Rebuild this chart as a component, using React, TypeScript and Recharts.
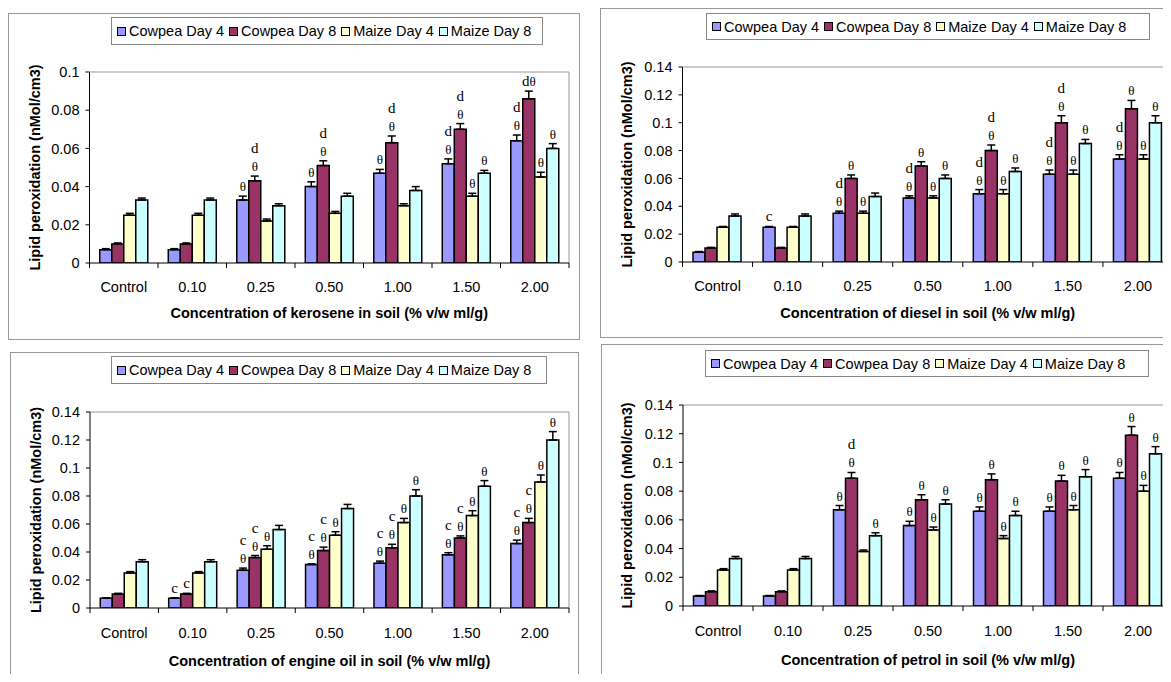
import React from 'react';
import { BarChart, Bar, XAxis, YAxis, CartesianGrid, ErrorBar, LabelList } from 'recharts';

const categories = ['Control', '0.10', '0.25', '0.50', '1.00', '1.50', '2.00'];
const seriesNames = ['Cowpea Day 4', 'Cowpea Day 8', 'Maize Day 4', 'Maize Day 8'];
const seriesColors = ['#9999FF', '#993366', '#FFFFCC', '#CCFFFF'];

// kerosene
const keroseneCowpea4 = [0.007, 0.007, 0.033, 0.040, 0.047, 0.052, 0.064];
const keroseneCowpea8 = [0.010, 0.010, 0.043, 0.051, 0.063, 0.070, 0.086];
const keroseneMaize4 = [0.025, 0.025, 0.022, 0.026, 0.030, 0.035, 0.045];
const keroseneMaize8 = [0.033, 0.033, 0.030, 0.035, 0.038, 0.047, 0.060];
const keroseneErrors = [
  [0.0005, 0.0005, 0.002, 0.0025, 0.002, 0.0025, 0.003],
  [0.0005, 0.0005, 0.0025, 0.0025, 0.0035, 0.003, 0.004],
  [0.001, 0.001, 0.001, 0.001, 0.001, 0.0015, 0.0025],
  [0.001, 0.001, 0.001, 0.0015, 0.002, 0.0015, 0.0025],
];
const keroseneNotes = [
  ['', '', 'θ', 'θ', 'θ', 'θ|d', 'θ|d'],
  ['', '', 'θ|d', 'θ|d', 'θ|d', 'θ|d', 'dθ'],
  ['', '', '', '', '', 'θ', 'θ'],
  ['', '', '', '', '', 'θ', 'θ'],
];

// diesel
const dieselCowpea4 = [0.007, 0.025, 0.035, 0.046, 0.049, 0.063, 0.074];
const dieselCowpea8 = [0.010, 0.010, 0.060, 0.069, 0.080, 0.100, 0.110];
const dieselMaize4 = [0.025, 0.025, 0.035, 0.046, 0.049, 0.063, 0.074];
const dieselMaize8 = [0.033, 0.033, 0.047, 0.060, 0.065, 0.085, 0.100];
const dieselErrors = [
  [0.0005, 0.0005, 0.0015, 0.0015, 0.003, 0.003, 0.003],
  [0.0005, 0.0005, 0.0025, 0.003, 0.004, 0.005, 0.006],
  [0.0005, 0.0005, 0.0015, 0.0015, 0.003, 0.003, 0.003],
  [0.0015, 0.0015, 0.0025, 0.0025, 0.0025, 0.003, 0.005],
];
const dieselNotes = [
  ['', 'c', 'θ|d', 'θ|d', 'θ|d', 'θ|d', 'θ|d'],
  ['', '', 'θ', 'θ', 'θ|d', 'θ|d', 'θ'],
  ['', '', 'θ', 'θ', 'θ', 'θ', 'θ'],
  ['', '', '', 'θ', 'θ', 'θ', 'θ'],
];

// engine oil
const engineCowpea4 = [0.007, 0.007, 0.027, 0.031, 0.032, 0.038, 0.046];
const engineCowpea8 = [0.010, 0.010, 0.036, 0.041, 0.043, 0.050, 0.061];
const engineMaize4 = [0.025, 0.025, 0.042, 0.052, 0.061, 0.066, 0.090];
const engineMaize8 = [0.033, 0.033, 0.056, 0.071, 0.080, 0.087, 0.120];
const engineErrors = [
  [0.0003, 0.0003, 0.0015, 0.0005, 0.0015, 0.0015, 0.0025],
  [0.0005, 0.0005, 0.0015, 0.0025, 0.0025, 0.0015, 0.003],
  [0.001, 0.001, 0.0025, 0.0025, 0.003, 0.0035, 0.005],
  [0.0015, 0.0015, 0.003, 0.003, 0.0045, 0.004, 0.006],
];
const engineNotes = [
  ['', 'c', 'θ|c', 'θ|c', 'θ|c', 'θ|c', 'θ|c'],
  ['', 'c', 'θ|c', 'θ|c', 'θ|c', 'θ|c', 'θ|c'],
  ['', '', 'θ', 'θ', 'θ', 'θ', 'θ'],
  ['', '', '', '', 'θ', 'θ', 'θ'],
];

// petrol
const petrolCowpea4 = [0.007, 0.007, 0.067, 0.056, 0.066, 0.066, 0.089];
const petrolCowpea8 = [0.010, 0.010, 0.089, 0.074, 0.088, 0.087, 0.119];
const petrolMaize4 = [0.025, 0.025, 0.038, 0.053, 0.047, 0.067, 0.080];
const petrolMaize8 = [0.033, 0.033, 0.049, 0.071, 0.063, 0.090, 0.106];
const petrolErrors = [
  [0.0003, 0.0003, 0.003, 0.003, 0.003, 0.003, 0.004],
  [0.0005, 0.0005, 0.004, 0.0035, 0.004, 0.004, 0.006],
  [0.001, 0.001, 0.001, 0.002, 0.002, 0.003, 0.004],
  [0.0015, 0.0015, 0.002, 0.003, 0.003, 0.005, 0.005],
];
const petrolNotes = [
  ['', '', 'θ', 'θ', 'θ', 'θ', 'θ'],
  ['', '', 'θ|d', 'θ', 'θ', 'θ', 'θ'],
  ['', '', '', 'θ', 'θ', 'θ', 'θ'],
  ['', '', 'θ', 'θ', 'θ', 'θ', 'θ'],
];

const ticksSmall = [0, 0.02, 0.04, 0.06, 0.08, 0.1];
const ticksLarge = [0, 0.02, 0.04, 0.06, 0.08, 0.1, 0.12, 0.14];

const SANS = "'Liberation Sans', Arial, sans-serif";
const SERIF = "'Liberation Serif', 'Times New Roman', serif";
const Y_W = 60;
const X_H = 60;
const FONT = 14.5;

type Rect = [number, number, number, number];

interface PanelProps {
  xTitle: string;
  values: number[][];
  errors: number[][];
  notes: string[][];
  yMax: number;
  yTicks: number[];
  box: Rect; // x, y, w, h (page)
  plot: Rect; // left, top, right, bottom (page)
  legend: Rect; // x, y, w, h (page)
  yTitleX: number;
  xTitleY: number;
  tickY: number;
}

const panels: PanelProps[] = [
  {
    xTitle: 'Concentration of kerosene in soil (% v/w ml/g)',
    values: [keroseneCowpea4, keroseneCowpea8, keroseneMaize4, keroseneMaize8],
    errors: keroseneErrors,
    notes: keroseneNotes,
    yMax: 0.1,
    yTicks: ticksSmall,
    box: [8, 13, 572, 327],
    plot: [89.5, 72, 569, 263],
    legend: [111, 17, 432, 28],
    yTitleX: 35,
    xTitleY: 313,
    tickY: 287,
  },
  {
    xTitle: 'Concentration of diesel in soil (% v/w ml/g)',
    values: [dieselCowpea4, dieselCowpea8, dieselMaize4, dieselMaize8],
    errors: dieselErrors,
    notes: dieselNotes,
    yMax: 0.14,
    yTicks: ticksLarge,
    box: [600, 8, 590, 330],
    plot: [682.5, 67, 1173, 262],
    legend: [706, 13, 444, 27],
    yTitleX: 627,
    xTitleY: 313,
    tickY: 286,
  },
  {
    xTitle: 'Concentration of engine oil in soil (% v/w ml/g)',
    values: [engineCowpea4, engineCowpea8, engineMaize4, engineMaize8],
    errors: engineErrors,
    notes: engineNotes,
    yMax: 0.14,
    yTicks: ticksLarge,
    box: [10, 352, 569, 340],
    plot: [90, 412, 569, 608],
    legend: [111, 356, 436, 28],
    yTitleX: 36,
    xTitleY: 661,
    tickY: 633,
  },
  {
    xTitle: 'Concentration of petrol in soil (% v/w ml/g)',
    values: [petrolCowpea4, petrolCowpea8, petrolMaize4, petrolMaize8],
    errors: petrolErrors,
    notes: petrolNotes,
    yMax: 0.14,
    yTicks: ticksLarge,
    box: [601, 344, 590, 340],
    plot: [683, 405, 1173, 606],
    legend: [705, 350, 444, 27],
    yTitleX: 627,
    xTitleY: 660,
    tickY: 631,
  },
];

function Legend({ rect, box }: { rect: Rect; box: Rect }) {
  return (
    <div
      style={{
        position: 'absolute',
        left: rect[0] - box[0],
        top: rect[1] - box[1],
        width: rect[2],
        height: rect[3],
        boxSizing: 'border-box',
        border: '1px solid #888',
        display: 'flex',
        alignItems: 'center',
        paddingLeft: 5,
        fontFamily: SANS,
        fontSize: FONT,
        whiteSpace: 'nowrap',
        background: '#fff',
      }}
    >
      {seriesNames.map((name, s) => (
        <span key={name} style={{ display: 'flex', alignItems: 'center', marginRight: 5 }}>
          <span
            style={{
              display: 'inline-block',
              width: 9,
              height: 9,
              boxSizing: 'border-box',
              border: '1px solid #000',
              background: seriesColors[s],
              marginRight: 3,
            }}
          />
          {name}
        </span>
      ))}
    </div>
  );
}

function Panel(p: PanelProps) {
  const [bx, by, bw, bh] = p.box;
  const [pl, pt, pr, pb] = p.plot;
  const band = (pr - pl) / categories.length;

  const rows = categories.map((name, i) => {
    const row: Record<string, unknown> = { name };
    p.values.forEach((vals, s) => {
      row['v' + s] = vals[i];
      row['e' + s] = [0, p.errors[s][i]];
    });
    return row;
  });

  const renderTick = (tp: any) => {
    const { x, y, payload, index } = tp;
    return (
      <g>
        <line x1={x - band / 2} x2={x - band / 2} y1={y} y2={y + 5} stroke="#000" />
        {index === categories.length - 1 && (
          <line x1={x + band / 2} x2={x + band / 2} y1={y} y2={y + 5} stroke="#000" />
        )}
        <text
          x={x}
          y={p.tickY - by}
          textAnchor="middle"
          dominantBaseline="central"
          fontFamily={SANS}
          fontSize={FONT}
          fill="#000"
        >
          {payload.value}
        </text>
      </g>
    );
  };

  const renderNote = (s: number) => (lp: any) => {
    const vb = lp.viewBox ?? lp;
    const i = lp.index;
    const note = p.notes[s][i];
    if (!note) return null;
    const x = Number(vb.x) + Number(vb.width) / 2;
    const h = Math.abs(Number(vb.height));
    const top = Math.min(Number(vb.y), Number(vb.y) + Number(vb.height));
    const errPx = p.values[s][i] ? (h * p.errors[s][i]) / p.values[s][i] : 0;
    const base = top - errPx - 5;
    return (
      <g>
        {note.split('|').map((part, j) => (
          <text key={j} x={x} y={base - j * 18} textAnchor="middle" fontFamily={SERIF} fill="#000">
            {[...part].map((ch, k) => (
              <tspan key={k} fontSize={ch === 'θ' ? 13 : 15}>
                {ch}
              </tspan>
            ))}
          </text>
        ))}
      </g>
    );
  };

  const yTitle = () => (
    <text
      x={p.yTitleX - bx}
      y={(pt + pb) / 2 - by}
      transform={`rotate(-90, ${p.yTitleX - bx}, ${(pt + pb) / 2 - by})`}
      textAnchor="middle"
      dominantBaseline="central"
      fontFamily={SANS}
      fontWeight="bold"
      fontSize={FONT}
      fill="#000"
    >
      Lipid peroxidation (nMol/cm3)
    </text>
  );

  const xTitle = () => (
    <text
      x={(pl + pr) / 2 - bx}
      y={p.xTitleY - by}
      textAnchor="middle"
      dominantBaseline="central"
      fontFamily={SANS}
      fontWeight="bold"
      fontSize={FONT}
      fill="#000"
    >
      {p.xTitle}
    </text>
  );

  return (
    <div style={{ position: 'absolute', left: bx, top: by, width: bw, height: bh }}>
      <div
        style={{
          position: 'absolute',
          left: 0,
          top: 0,
          width: bw,
          height: bh,
          boxSizing: 'border-box',
          border: '1px solid #999',
        }}
      />
      <div style={{ position: 'absolute', left: 0, top: 0 }}>
        <BarChart
          width={bw}
          height={bh}
          data={rows}
          barCategoryGap="15%"
          barGap={0}
          margin={{
            top: pt - by,
            left: pl - bx - Y_W,
            right: bx + bw - pr,
            bottom: by + bh - pb - X_H,
          }}
        >
          <CartesianGrid
            stroke="#999"
            horizontalCoordinatesGenerator={({ offset }: any) => [offset.top]}
            verticalCoordinatesGenerator={({ offset }: any) => [offset.left + offset.width]}
          />
          <XAxis
            dataKey="name"
            height={X_H}
            tickSize={0}
            tickMargin={0}
            tickLine={false}
            axisLine={{ stroke: '#000' }}
            interval={0}
            tick={renderTick}
            label={{ content: xTitle }}
          />
          <YAxis
            width={Y_W}
            domain={[0, p.yMax]}
            allowDataOverflow
            ticks={p.yTicks}
            interval={0}
            tickSize={4}
            tickMargin={6}
            tickLine={{ stroke: '#000' }}
            axisLine={{ stroke: '#000' }}
            tickFormatter={(v: number) => String(Number(v.toFixed(2)))}
            tick={{ fontFamily: SANS, fontSize: FONT, fill: '#000' }}
            label={{ content: yTitle }}
          />
          {seriesNames.map((name, s) => (
            <Bar
              key={name}
              dataKey={'v' + s}
              name={name}
              fill={seriesColors[s]}
              stroke="#000"
              strokeWidth={1.5}
              isAnimationActive={false}
            >
              <ErrorBar dataKey={'e' + s} direction="y" width={4} stroke="#000" strokeWidth={1.5} />
              <LabelList dataKey={'v' + s} content={renderNote(s)} />
            </Bar>
          ))}
        </BarChart>
      </div>
      <Legend rect={p.legend} box={p.box} />
    </div>
  );
}

export default function App() {
  return (
    <div
      style={{
        position: 'relative',
        width: 1171,
        height: 682,
        margin: -8,
        overflow: 'hidden',
        background: '#fff',
      }}
    >
      {panels.map((p) => (
        <Panel key={p.xTitle} {...p} />
      ))}
    </div>
  );
}
